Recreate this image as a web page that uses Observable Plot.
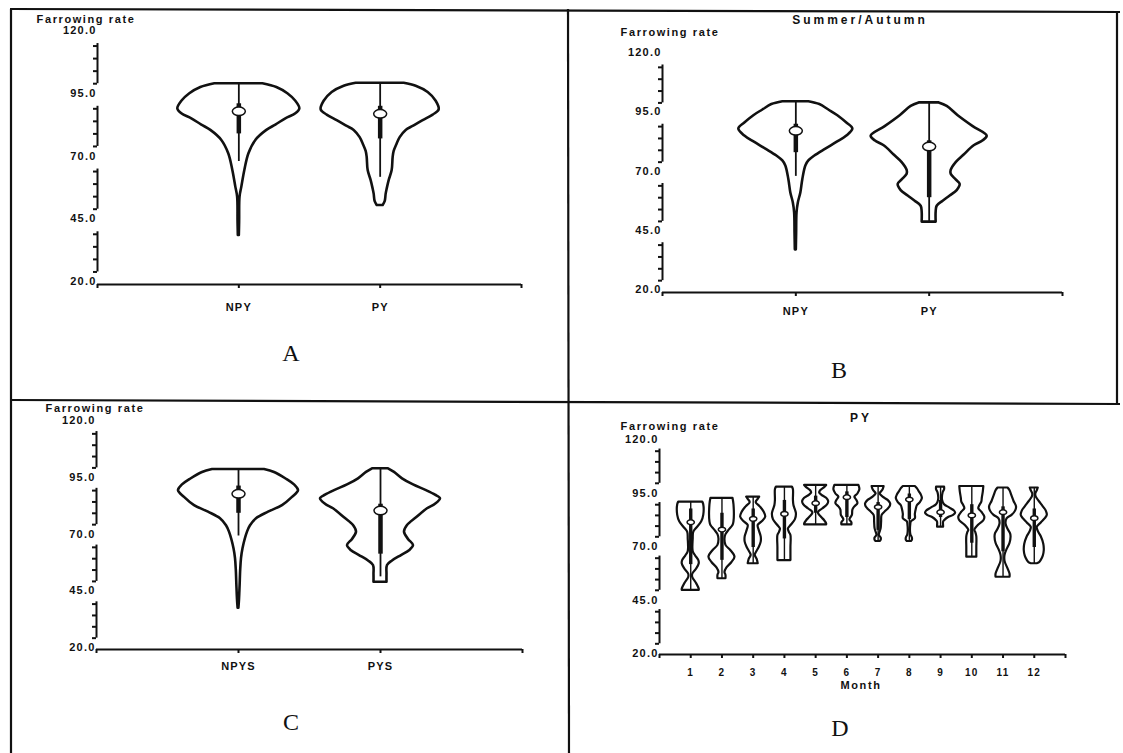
<!DOCTYPE html>
<html>
<head>
<meta charset="utf-8">
<script src="https://cdn.jsdelivr.net/npm/d3@7"></script>
<script src="https://cdn.jsdelivr.net/npm/@observablehq/plot@0.6"></script>
<style>
  body { margin: 0; background: #fff; }
  #page { position: relative; width: 1123px; height: 753px; overflow: hidden; background: #fff;
          font-family: "Liberation Sans", Arial, sans-serif; color: #111; }
  #page svg.panel { position: absolute; }
  .lbl { position: absolute; font-weight: bold; font-size: 11px; letter-spacing: 1.6px;
         white-space: nowrap; transform: translate(-50%, -50%); }
  .ttl { font-size: 12px; letter-spacing: 3px; }
  .letter { position: absolute; font-family: "Liberation Serif", "Times New Roman", serif;
            font-size: 24px; transform: translate(-50%, -50%); }
</style>
</head>
<body>
<div id="page"></div>
<script>
// ---- Farrowing-rate axis ----
const yMajorTicks = [20, 45, 70, 95, 120];
const yMinorTicks = [25, 30, 35, 40, 50, 55, 60, 65, 75, 80, 85, 90, 100, 105, 110, 115];

// ---- Categories ----
const groupsA = ["NPY", "PY"];
const groupsB = ["NPY", "PY"];
const groupsC = ["NPYS", "PYS"];
const months = ["1", "2", "3", "4", "5", "6", "7", "8", "9", "10", "11", "12"];

// ---- Violin outlines: [farrowing rate, relative density] ----
const profileA_NPY = [[100,24],[98.5,38],[96,49],[93,57],[90,61],[88,57],[86,47],[83.5,37],[81.4,28],[77.4,17],[72,10],[65.4,6],[58.8,3],[54.8,1.2],[45,0.8],[39.5,0.5]];
const profileA_PY  = [[100.2,24],[99,36],[96.5,48],[93,56],[89.6,59],[87.5,53],[85.3,43],[83,33],[81.4,26],[78.5,20],[76,17],[73,14],[70.7,13],[65.4,12],[61.4,9],[58,7],[56,6],[53,5],[51.5,3]];

const profileB_NPY = [[100.5,13],[99.3,24],[97,33],[94.6,42],[91.5,51],[89,57],[86,51],[83.3,41],[80.5,30],[77.6,19],[75.5,13],[73.4,10],[67.7,7],[62,5],[57.8,2.5],[53.6,1.2],[45,0.8],[38,0.5]];
const profileB_PY  = [[100,10],[98.5,18],[94.6,29],[90,44],[86,58],[84,54],[81.9,45],[78,35],[74.8,27],[71.5,22],[69.9,22],[67.5,27],[65.6,31],[63,28],[60.7,21],[58.5,14],[56.4,8],[54,7],[49.7,7]];

const profileC_NPYS = [[99.3,26],[98,36],[95,48],[92.5,56],[90,60],[87,54],[83.4,44],[80.5,30],[77.6,18],[74.5,12],[71.7,9],[64.4,4.5],[60,3],[55,2.2],[48,1.6],[42,1],[38.2,0.4]];
const profileC_PYS  = [[99.6,8],[98,14],[95.2,22],[92.5,33],[90,46],[88,55],[86.4,60],[84,55],[82,47],[78,36],[74.6,27],[71.7,24],[68.5,28],[65.8,33],[63.5,29],[61.4,21],[59,12],[57,7],[53,6.5],[49.6,6.5]];

const profileD1  = [[91.2,12],[90,13],[85,13],[82,11],[79,6],[77.1,3],[74,2.5],[68,2.5],[66,5],[64,8],[62.4,8.5],[60,6],[57.5,2],[56,2],[53,6],[50.5,8.5],[50,8.5]];
const profileD2  = [[93,11],[90,12],[82,12],[80.3,11],[78,7],[76,4],[74,3],[71,4],[68.5,9],[65.5,13],[63,10],[60.5,5],[58.4,3],[57,4],[55.4,4]];
const profileD3  = [[93.5,6.5],[92.5,5],[91,3],[89,7],[86.5,11],[84.2,12.5],[82,9],[80.3,5],[78,6],[75,8],[72.5,8],[70,6],[67.5,3],[66.3,2],[64.5,4],[62.4,5]];
const profileD4  = [[98.2,8],[97,9],[92,9],[89.6,9.5],[87.5,11],[85.7,12],[83,11],[80.5,7],[78.7,4],[77,5],[75.6,6.5],[70,6.5],[66,6.5],[63.9,6.5]];
const profileD5  = [[99,11],[98,9],[96.5,5],[95.5,4],[94.5,6],[93,11],[91.5,13],[90,12],[88,7],[86.5,3],[85.7,3],[84,6],[82.5,9],[81,11],[80.6,11]];
const profileD6  = [[99,12],[97,13],[95,11],[93.5,8],[92,10],[90.5,11],[89,8],[87.5,6],[85,5.5],[83,3],[81.5,5],[80.6,5]];
const profileD7  = [[98.5,6],[97,5],[95.5,2.5],[95,2],[93.5,5],[92,10],[90.4,12.5],[89,12],[87,8],[85,4],[82,3.5],[78.7,3],[76.5,1.5],[75.6,1.2],[74.5,3],[73.3,3],[72.8,2]];
const profileD8  = [[98.5,6],[97.5,8],[96,10],[94.5,12],[92.8,13],[91,11],[89.5,8],[88,7],[85.5,6],[83.4,6],[82,2],[81,1.5],[76,1.5],[74.5,3],[73.3,3],[72.8,2]];
const profileD9  = [[98.2,4],[97,4],[95.5,2.5],[92,2],[90,4],[88.5,9],[87,14],[86,15],[85,13],[84,8],[82.5,4],[81.8,3],[80,3],[79.5,3]];
const profileD10 = [[98.5,12],[96,11.5],[93,10.5],[91.2,10],[89.5,8],[88.1,7],[86.5,10],[84.2,13],[82.5,12],[80.5,7],[78,3],[77,4],[75,5],[70,5],[66,5],[65.5,5]];
const profileD11 = [[97.8,5],[96.5,7],[94,9],[91.5,11],[88.9,13.5],[87,12.5],[85,9],[83.4,4],[81,3],[78.5,5],[76.5,7.5],[74.8,8],[72,7],[69,4],[66.3,2],[63.5,2],[60,5],[57.5,7],[56.1,7]];
const profileD12 = [[97.8,4],[96.5,3],[95,1.5],[93.5,2],[91.5,5],[89,9],[87,12],[85,13],[83.5,11],[81.5,7],[79.5,3],[77.5,4],[75,7],[71.5,9.5],[68.6,10],[66,9],[64,7],[62.8,5],[62.4,3]];

// ---- Inner box summaries: [low, q1, median, q3, high] ----
const boxesA = [[69, 80, 89, 92, 100], [62.7, 78, 88, 91, 100.2]];
const boxesB = [[69, 79, 88.2, 91, 100.5], [50, 60, 81.6, 84, 100]];
const boxesC = [[70, 80, 88.6, 92, 99.3], [52, 62, 81.2, 84, 99.6]];
const boxesD = [
  [50, 62, 81.8, 88, 91.2], [55.4, 64, 78.4, 86, 93], [62.4, 70, 83.4, 88, 93.5],
  [64, 74, 85.7, 92, 98.2], [80.6, 86, 90.7, 94, 99], [80.6, 84, 93.5, 96, 99],
  [73.3, 78, 88.9, 91, 98.5], [73.3, 83, 92.4, 95, 98.5], [79.5, 84, 86.5, 92, 98.2],
  [65.5, 72, 85, 90, 98.5], [56.1, 68, 86.5, 89, 97.8], [62.4, 70, 83.7, 88, 97.8]
];

// Wide, flattened median marker
const ellipse = {
  draw(ctx, size) {
    const r = Math.sqrt(size / Math.PI), rx = r * 1.3, ry = r * 0.85, c = 0.5523;
    ctx.moveTo(rx, 0);
    ctx.bezierCurveTo(rx, ry * c, rx * c, ry, 0, ry);
    ctx.bezierCurveTo(-rx * c, ry, -rx, ry * c, -rx, 0);
    ctx.bezierCurveTo(-rx, -ry * c, -rx * c, -ry, 0, -ry);
    ctx.bezierCurveTo(rx * c, -ry, rx, -ry * c, rx, 0);
    ctx.closePath();
  }
};

const ink = "#111";
const page = document.getElementById("page");

function violinPanel(cfg) {
  const {left, top, width, height, margins, xDomain, labels, profiles, boxes, densityScale,
         outlineWidth, thinWidth, thickWidth, dotR, labelPad, fontSize, rateLabelDy} = cfg;
  const positions = labels.map((_, i) => i + 1);
  const rows = profiles.flatMap((p, i) =>
    p.map(([v, d]) => ({g: i, v, x1: positions[i] - d * densityScale, x2: positions[i] + d * densityScale})));
  const stats = boxes.map((b, i) => ({x: positions[i], lo: b[0], q1: b[1], med: b[2], q3: b[3], hi: b[4]}));
  const segments = yMajorTicks.slice(0, -1).map(m => ({a: m + 5, b: m + 21}));
  const xTicks = [xDomain[0], ...positions, xDomain[1]];
  const tickText = new Map(positions.map((p, i) => [p, labels[i]]));

  const svg = Plot.plot({
    width, height, ...margins,
    x: {domain: xDomain, axis: null, label: null},
    y: {domain: [20, 120], axis: null, label: null},
    style: {background: "transparent", fontFamily: "'Liberation Sans', Arial, sans-serif",
            fontWeight: "bold", letterSpacing: "1.2px", color: ink, overflow: "visible"},
    marks: [
      Plot.areaX(rows, {y: "v", x1: "x1", x2: "x2", z: "g", curve: "catmull-rom",
                        fill: "white", stroke: ink, strokeWidth: outlineWidth, strokeLinejoin: "round"}),
      Plot.ruleX(stats, {x: "x", y1: "lo", y2: "hi", stroke: ink, strokeWidth: thinWidth}),
      Plot.ruleX(stats, {x: "x", y1: "q1", y2: "q3", stroke: ink, strokeWidth: thickWidth}),
      Plot.dot(stats, {x: "x", y: "med", r: dotR, symbol: ellipse, fill: "white", stroke: ink, strokeWidth: 1.5}),
      // category axis
      Plot.ruleY([20], {x1: () => xDomain[0], x2: () => xDomain[1], stroke: ink, strokeWidth: 2}),
      Plot.axisX(xTicks, {tickSize: 4, tickPadding: labelPad, strokeWidth: 2, stroke: ink, fill: ink,
                          fontSize, label: null, tickFormat: d => tickText.get(d) ?? ""}),
      // farrowing-rate axis: broken spine with minor ticks and major labels
      Plot.ruleX(segments, {x: () => xDomain[0], y1: "a", y2: "b", stroke: ink, strokeWidth: 2}),
      Plot.axisY(yMinorTicks, {tickSize: 4, strokeWidth: 2, stroke: ink, label: null, tickFormat: () => ""}),
      Plot.axisY(yMajorTicks, {tickSize: 0, tickPadding: 1, dy: rateLabelDy, fill: ink, fontSize: 11,
                               label: null, tickFormat: d3.format(".1f")})
    ]
  });
  svg.classList.add("panel");
  svg.style.left = left + "px";
  svg.style.top = top + "px";
  page.appendChild(svg);
}

violinPanel({left: 0, top: 0, width: 560, height: 400,
  margins: {marginLeft: 97, marginRight: 39, marginTop: 33, marginBottom: 116},
  xDomain: [0, 3], labels: groupsA, profiles: [profileA_NPY, profileA_PY], boxes: boxesA,
  densityScale: 1 / 141.3, outlineWidth: 2.6, thinWidth: 1.8, thickWidth: 4.5, dotR: 5,
  labelPad: 15, fontSize: 11, rateLabelDy: -3});

violinPanel({left: 560, top: 0, width: 560, height: 400,
  margins: {marginLeft: 102, marginRight: 58, marginTop: 55, marginBottom: 108},
  xDomain: [0, 3], labels: groupsB, profiles: [profileB_NPY, profileB_PY], boxes: boxesB,
  densityScale: 1 / 133.3, outlineWidth: 2.6, thinWidth: 1.8, thickWidth: 4.5, dotR: 5,
  labelPad: 11, fontSize: 11, rateLabelDy: -3});

violinPanel({left: 0, top: 400, width: 560, height: 353,
  margins: {marginLeft: 96, marginRight: 38, marginTop: 22, marginBottom: 104},
  xDomain: [0, 3], labels: groupsC, profiles: [profileC_NPYS, profileC_PYS], boxes: boxesC,
  densityScale: 1 / 142, outlineWidth: 2.6, thinWidth: 1.8, thickWidth: 4.5, dotR: 5,
  labelPad: 9, fontSize: 11, rateLabelDy: -2});

violinPanel({left: 560, top: 400, width: 563, height: 353,
  margins: {marginLeft: 99, marginRight: 58, marginTop: 40, marginBottom: 99},
  xDomain: [0, 13], labels: months,
  profiles: [profileD1, profileD2, profileD3, profileD4, profileD5, profileD6,
             profileD7, profileD8, profileD9, profileD10, profileD11, profileD12],
  boxes: boxesD, densityScale: 1 / 31.2, outlineWidth: 2.2, thinWidth: 1.4, thickWidth: 3.4,
  dotR: 2.8, labelPad: 10, fontSize: 10, rateLabelDy: -1});

// ---- Panel frame ----
const frame = d3.create("svg").attr("width", 1123).attr("height", 753)
  .style("position", "absolute").style("left", 0).style("top", 0);
const frameLines = [
  [10, 9, 1120, 12],    // top
  [11, 9, 11, 753],     // left
  [568, 9, 569, 753],   // middle divider
  [11, 400, 1120, 404], // horizontal divider
  [1117, 11, 1117, 404] // right edge of upper row
];
frame.selectAll("line").data(frameLines).join("line")
  .attr("x1", d => d[0]).attr("y1", d => d[1]).attr("x2", d => d[2]).attr("y2", d => d[3])
  .attr("stroke", ink).attr("stroke-width", 2.2);
page.appendChild(frame.node());

// ---- Texts ----
function addText(text, x, y, cls) {
  const el = document.createElement("div");
  el.className = cls;
  el.textContent = text;
  el.style.left = x + "px";
  el.style.top = y + "px";
  page.appendChild(el);
}
addText("Farrowing rate", 86, 19, "lbl");
addText("Summer/Autumn", 860, 20, "lbl ttl");
addText("Farrowing rate", 670, 32, "lbl");
addText("Farrowing rate", 95, 408, "lbl");
addText("PY", 861, 418, "lbl ttl");
addText("Farrowing rate", 670, 426, "lbl");
addText("Month", 861, 685, "lbl");
addText("A", 291, 353, "letter");
addText("B", 839, 370, "letter");
addText("C", 291, 722, "letter");
addText("D", 840, 728, "letter");
</script>
</body>
</html>
